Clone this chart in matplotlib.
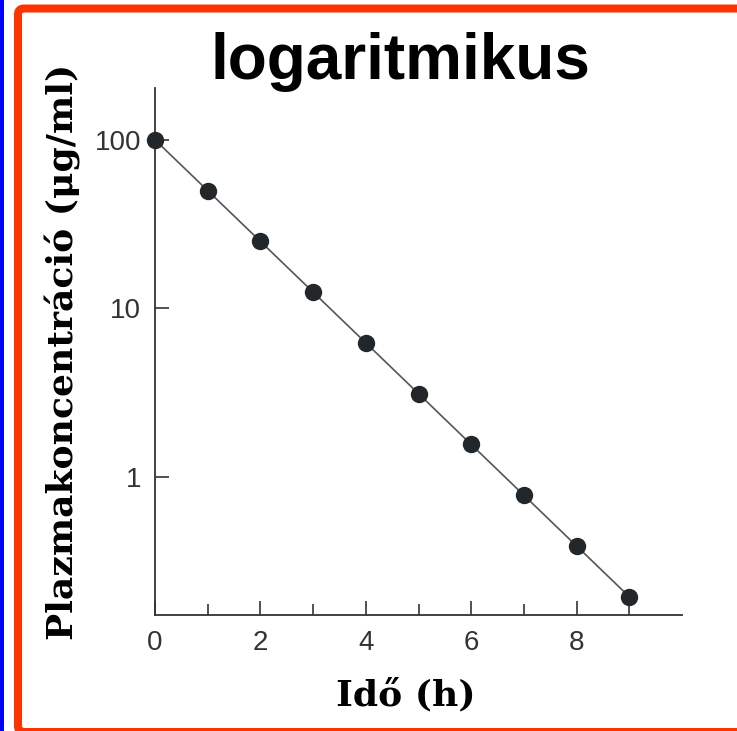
import matplotlib
matplotlib.use("Agg")
import matplotlib.pyplot as plt
from matplotlib.patches import FancyBboxPatch, Rectangle
from matplotlib.ticker import FixedLocator, NullLocator

# DATA
hours = [0, 1, 2, 3, 4, 5, 6, 7, 8, 9]
concentration = [100, 50, 25, 12.5, 6.25, 3.125, 1.56, 0.78, 0.39, 0.195]
xtick_major = [0, 2, 4, 6, 8]
xtick_minor = [1, 3, 5, 7, 9]
ytick_vals = [1, 10, 100]
ytick_labels = ["1", "10", "100"]

W, H = 737, 731
fig = plt.figure(figsize=(W / 100, H / 100), dpi=100)
fig.patch.set_facecolor("white")

# blue stripe + red frame (pixel coords)
fig.add_artist(Rectangle((0, 0), 4 / W, 1, transform=fig.transFigure,
                         facecolor="#0000ff", edgecolor="none"))
fig.add_artist(FancyBboxPatch((18, -1), 800, H - 8.5 + 1,
                              boxstyle="round,pad=0,rounding_size=6",
                              transform=None, facecolor="none",
                              edgecolor="#ff3300", linewidth=8 * 0.72))

ax = fig.add_axes([155 / W, 1 - 615 / H, 527 / W, 527 / H])
ax.plot(hours, concentration, color="#555555", lw=1.2, zorder=2)
ax.plot(hours, concentration, "o", color="#22272b", ms=11.5, zorder=3,
        clip_on=False)

ax.set_yscale("log")
ax.set_xlim(0, 10)
ax.set_ylim(0.152, 203)

ax.xaxis.set_major_locator(FixedLocator(xtick_major))
ax.xaxis.set_minor_locator(FixedLocator(xtick_minor))
ax.set_xticklabels([str(v) for v in xtick_major])
ax.yaxis.set_major_locator(FixedLocator(ytick_vals))
ax.yaxis.set_minor_locator(NullLocator())
ax.set_yticklabels(ytick_labels)

for s in ["top", "right"]:
    ax.spines[s].set_visible(False)
for s in ["left", "bottom"]:
    ax.spines[s].set_color("#333333")
    ax.spines[s].set_linewidth(1.3)

ax.tick_params(which="major", direction="in", length=10, width=1.2,
               color="#333333", labelcolor="#333333", labelsize=20)
ax.tick_params(which="minor", direction="in", length=8, width=1.2,
               color="#333333")
ax.tick_params(axis="x", which="major", pad=11)
ax.tick_params(axis="y", which="major", pad=10)
for lab in ax.get_xticklabels() + ax.get_yticklabels():
    lab.set_family("Liberation Sans")

fig.text(400 / W, 1 - 62 / H, "logaritmikus", ha="center", va="center",
         fontsize=46, fontweight="bold", family="Liberation Sans")
fig.text(63 / W, 1 - 352 / H, "Plazmakoncentráció (μg/ml)", rotation=90,
         ha="center", va="center", fontsize=26, fontweight="bold",
         family="DejaVu Serif")
fig.text(406 / W, 1 - 695 / H, "Idő (h)", ha="center", va="center",
         fontsize=26, fontweight="bold", family="DejaVu Serif")

fig.savefig("out.png", dpi=100)
